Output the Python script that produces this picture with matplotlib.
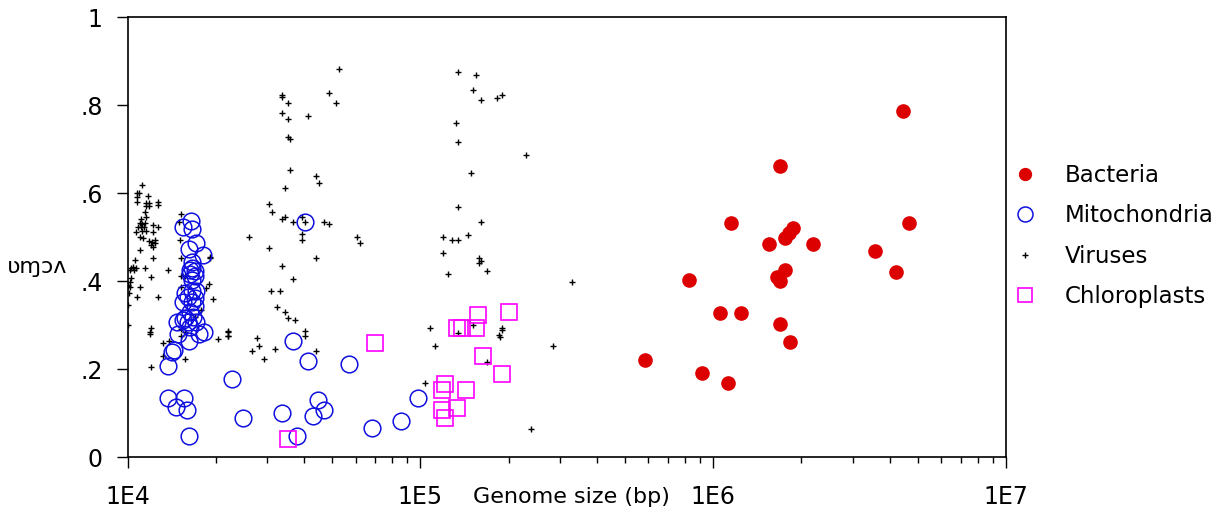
import matplotlib.pyplot as plt
import numpy as np

# values; sizes stored as log10(bp)
bact_logsize = [5.766, 5.961, 6.050, 5.917, 6.023, 6.094, 6.060, 6.190, 6.228, 6.245, 6.258,
                6.272, 6.340, 6.217, 6.228, 6.245, 6.228, 6.262, 6.552, 6.668, 6.624, 6.648]
bact_y = [0.221, 0.192, 0.169, 0.403, 0.328, 0.328, 0.533, 0.485, 0.662, 0.498, 0.510,
          0.521, 0.485, 0.410, 0.401, 0.426, 0.303, 0.262, 0.469, 0.533, 0.421, 0.787]

mito_logsize = [4.138, 4.157, 4.153, 4.138, 4.164, 4.191, 4.201, 4.209, 4.173, 4.168, 4.209,
                4.244, 4.261, 4.216, 4.189, 4.218, 4.232, 4.209, 4.257, 4.221, 4.221, 4.212,
                4.229, 4.212, 4.229, 4.218, 4.195, 4.218, 4.235, 4.206, 4.229, 4.189, 4.218,
                4.229, 4.212, 4.195, 4.223, 4.206, 4.235, 4.212, 4.189,
                4.358, 4.394, 4.526, 4.563, 4.578, 4.607, 4.615, 4.649, 4.633, 4.669, 4.757,
                4.836, 4.932, 4.993]
mito_y = [0.208, 0.244, 0.239, 0.135, 0.114, 0.135, 0.108, 0.048, 0.280, 0.308, 0.264,
          0.280, 0.285, 0.538, 0.524, 0.518, 0.486, 0.473, 0.460, 0.445, 0.431, 0.426,
          0.423, 0.417, 0.412, 0.403, 0.373, 0.379, 0.379, 0.365, 0.361, 0.354, 0.354,
          0.344, 0.331, 0.316, 0.320, 0.308, 0.308, 0.297, 0.312,
          0.177, 0.089, 0.101, 0.265, 0.048, 0.535, 0.219, 0.130, 0.094, 0.108, 0.213,
          0.066, 0.083, 0.135]

virus_logsize = [4.050, 4.033, 4.039, 4.033, 4.069, 4.033, 4.064, 4.073, 4.064, 4.073, 4.104,
                 4.104, 4.058, 4.064, 4.047, 4.041, 4.050, 4.058, 4.035, 4.044, 4.056, 4.086,
                 4.104, 4.030, 4.050, 4.061, 4.086, 4.052, 4.041, 4.073, 4.084, 4.092, 4.078,
                 4.086, 4.092, 4.043, 4.086, 4.024, 4.018, 4.027, 4.013, 4.009, 4.023, 4.060,
                 4.138, 4.078, 4.013, 4.007, 4.001, 4.000, 4.007, 4.041, 4.004, 4.032, 4.104,
                 4.000, 4.000, 4.078, 4.075, 4.075, 4.079, 4.121, 4.121, 4.140, 4.195, 4.180,
                 4.183, 4.175, 4.183, 4.183, 4.183, 4.195, 4.280, 4.280, 4.266, 4.278, 4.291,
                 4.252, 4.229, 4.183, 4.183, 4.195, 4.309, 4.343, 4.343,
                 4.722, 4.526, 4.526, 4.546, 4.686, 4.713, 4.526, 4.546, 4.616, 4.546, 4.553,
                 4.553, 4.642, 4.653, 4.536, 4.483, 4.493, 4.527, 4.536, 4.563, 4.597, 4.607,
                 4.670, 4.686, 4.413, 4.597, 4.597, 4.783, 4.793, 4.483, 4.642, 4.526, 4.563,
                 4.491, 4.519, 4.510, 4.536, 4.546, 4.573, 4.343, 4.343, 4.607, 4.607, 4.440,
                 4.449, 4.423, 4.502, 4.465, 4.642,
                 5.128, 5.190, 5.181, 5.207, 5.260, 5.279, 5.120, 5.128, 5.359, 5.172, 5.128,
                 5.207, 5.076, 5.164, 5.109, 5.128, 5.076, 5.199, 5.208, 5.199, 5.227, 5.093,
                 5.517, 5.031, 5.128, 5.181, 5.279, 5.279, 5.269, 5.271, 5.049, 5.454, 5.227,
                 5.014, 5.376]
virus_y = [0.619, 0.600, 0.600, 0.592, 0.594, 0.581, 0.577, 0.577, 0.571, 0.571, 0.581,
           0.573, 0.558, 0.547, 0.541, 0.532, 0.530, 0.533, 0.524, 0.523, 0.523, 0.528,
           0.523, 0.513, 0.514, 0.514, 0.513, 0.499, 0.501, 0.492, 0.490, 0.494, 0.483,
           0.479, 0.486, 0.471, 0.452, 0.448, 0.433, 0.430, 0.431, 0.426, 0.426, 0.430,
           0.426, 0.410, 0.407, 0.399, 0.392, 0.389, 0.388, 0.388, 0.373, 0.365, 0.365,
           0.346, 0.301, 0.293, 0.285, 0.280, 0.206, 0.259, 0.230, 0.265, 0.223, 0.494,
           0.553, 0.535, 0.452, 0.412, 0.388, 0.412, 0.456, 0.452, 0.384, 0.393, 0.359,
           0.335, 0.320, 0.291, 0.276, 0.285, 0.270, 0.284, 0.276,
           0.882, 0.823, 0.818, 0.806, 0.829, 0.806, 0.782, 0.770, 0.776, 0.729, 0.723,
           0.653, 0.640, 0.624, 0.612, 0.576, 0.558, 0.541, 0.547, 0.535, 0.547, 0.535,
           0.535, 0.530, 0.500, 0.508, 0.494, 0.500, 0.488, 0.476, 0.452, 0.435, 0.405,
           0.377, 0.377, 0.341, 0.330, 0.317, 0.312, 0.288, 0.276, 0.288, 0.276, 0.271,
           0.253, 0.242, 0.247, 0.223, 0.242,
           0.875, 0.870, 0.835, 0.811, 0.817, 0.823, 0.759, 0.717, 0.687, 0.646, 0.570,
           0.534, 0.500, 0.506, 0.493, 0.493, 0.465, 0.453, 0.446, 0.441, 0.423, 0.417,
           0.399, 0.294, 0.283, 0.301, 0.295, 0.289, 0.278, 0.274, 0.253, 0.253, 0.217,
           0.170, 0.064]

chloro_logsize = [4.845, 4.546, 5.198, 5.304, 5.126, 5.143, 5.191, 5.215, 5.278, 5.083,
                  5.074, 5.154, 5.126, 5.074, 5.083]
chloro_y = [0.260, 0.042, 0.323, 0.330, 0.295, 0.295, 0.295, 0.230, 0.189, 0.166,
            0.154, 0.154, 0.113, 0.108, 0.089]

xticks = [1e4, 1e5, 1e6, 1e7]
xticklabels = ['1E4', '1E5', '1E6', '1E7']
yticks = [0, 0.2, 0.4, 0.6, 0.8, 1.0]
yticklabels = ['0', '.2', '.4', '.6', '.8', '1']

fig = plt.figure(figsize=(12.23, 5.12), dpi=100)
ax = fig.add_axes([0.1044, 0.1068, 0.7182, 0.8594])

ax.plot(10 ** np.array(virus_logsize), virus_y, '+', color='black', ms=5, mew=1.0,
        label='Viruses', zorder=2)
ax.plot(10 ** np.array(mito_logsize), mito_y, 'o', mfc='none', mec='#1010e0', ms=12, mew=1.1,
        label='Mitochondria', zorder=3)
ax.plot(10 ** np.array(chloro_logsize), chloro_y, 's', mfc='none', mec='#ff00ff', ms=11.5, mew=1.2,
        label='Chloroplasts', zorder=3)
ax.plot(10 ** np.array(bact_logsize), bact_y, 'o', color='#dd0000', ms=9.5,
        label='Bacteria', zorder=4)

ax.set_xscale('log')
ax.set_xlim(1e4, 1e7)
ax.set_ylim(0, 1)
ax.set_xticks(xticks)
ax.set_xticklabels(xticklabels)
ax.set_yticks(yticks)
ax.set_yticklabels(yticklabels)
ax.tick_params(axis='both', which='major', direction='out', length=8, width=1, labelsize=17)
ax.tick_params(axis='x', which='major', pad=12)
ax.tick_params(axis='y', which='major', pad=10)
ax.tick_params(axis='x', which='minor', direction='out', length=4, width=1)
for s in ax.spines.values():
    s.set_linewidth(1.2)

ax.text(0.505, -0.09, 'Genome size (bp)', transform=ax.transAxes, fontsize=16,
        ha='center', va='center')
fig.text(0.03, 0.478, '\u028b\u0271\u0254\u028c', fontsize=16, ha='center', va='center')

h, l = ax.get_legend_handles_labels()
order = [3, 1, 0, 2]
leg = ax.legend([h[i] for i in order], [l[i] for i in order], loc='center left',
                bbox_to_anchor=(0.972, 0.503), frameon=False, fontsize=16.5,
                handlelength=2.0, handletextpad=0.74, labelspacing=0.77, markerscale=0.9)

fig.savefig('out.png', dpi=100)
